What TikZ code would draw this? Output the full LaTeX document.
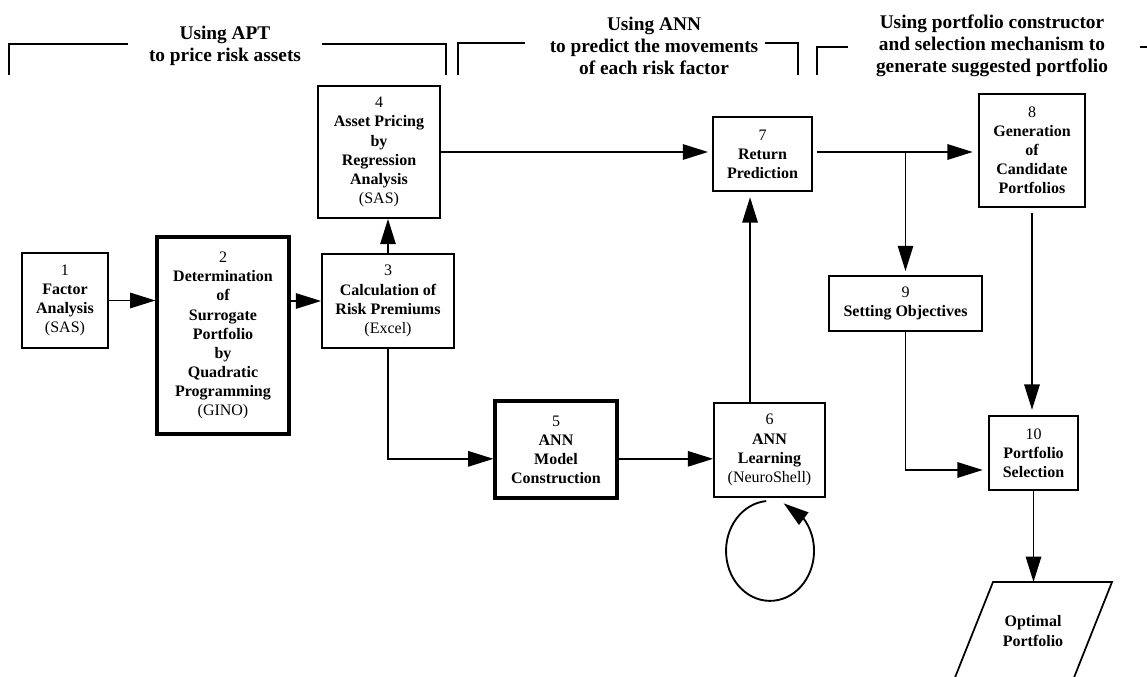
\documentclass[tikz,border=0pt]{standalone}
\usepackage{fontspec}
\setmainfont{Liberation Serif}
\usetikzlibrary{arrows.meta,calc,bending}
\begin{document}
\begin{tikzpicture}[x=0.75pt,y=-0.75pt,
  box/.style={draw, line width=1.3pt, align=center, inner sep=0pt,
    font=\fontsize{12}{14.3}\selectfont\bfseries},
  heavybox/.style={box, line width=2.3pt},
  hdr/.style={align=center, inner sep=0pt,
    font=\fontsize{14.5}{16.5}\selectfont\bfseries},
  bracket/.style={line width=1.1pt},
  conn/.style={line width=1.4pt, -{Triangle[length=19pt,width=11.5pt]}},
  plainline/.style={line width=1.4pt}
]
\useasboundingbox (0,0) rectangle (1147,677);
\clip (0,0) rectangle (1147,677);

% headers
\node[hdr] (h1) at (225,46) {Using APT\\to price risk assets};
\node[hdr] (h2) at (654,46) {Using ANN\\to predict the movements\\of each risk factor};
\node[hdr] (h3) at (992,46) {Using portfolio constructor\\and selection mechanism to\\generate suggested portfolio};

\draw[bracket] (9,75) -- (9,44) -- (128,44);
\draw[bracket] (322,44) -- (446,44) -- (446,75);
\draw[bracket] (458,75) -- (458,43) -- (525,43);
\draw[bracket] (765,43) -- (798,43) -- (798,75);
\draw[bracket] (817,75) -- (817,47) -- (848,47);
\draw[bracket] (1140,47) -- (1147,47);

% boxes
\node[box, minimum width=64.5pt, minimum height=71.25pt] (b1) at (65,300.5)
  {\textmd{1}\\Factor\\Analysis\\\textmd{(SAS)}};
\node[heavybox, minimum width=99pt, minimum height=147.75pt] (b2) at (223,335.5)
  {\textmd{2}\\Determination\\of\\Surrogate\\Portfolio\\by\\Quadratic\\Programming\\\textmd{(GINO)}};
\node[box, minimum width=99pt, minimum height=70.5pt] (b3) at (388,301)
  {\textmd{3}\\Calculation of\\Risk Premiums\\\textmd{(Excel)}};
\node[box, minimum width=91.5pt, minimum height=99pt] (b4) at (379,152)
  {\textmd{4}\\Asset Pricing\\by\\Regression\\Analysis\\\textmd{(SAS)}};
\node[heavybox, minimum width=91.5pt, minimum height=72.75pt] (b5) at (556,449.5)
  {\textmd{5}\\ANN\\Model\\Construction};
\node[box, minimum width=83.25pt, minimum height=70.5pt] (b6) at (769.5,450)
  {\textmd{6}\\ANN\\Learning\\\textmd{(NeuroShell)}};
\node[box, minimum width=74.25pt, minimum height=55.5pt] (b7) at (762.5,154)
  {\textmd{7}\\Return\\Prediction};
\node[box, minimum width=79.5pt, minimum height=84.75pt] (b8) at (1032,150.5)
  {\textmd{8}\\Generation\\of\\Candidate\\Portfolios};
\node[box, minimum width=114.75pt, minimum height=41.25pt] (b9) at (905.5,303.5)
  {\textmd{9}\\Setting Objectives};
\node[box, minimum width=66.75pt, minimum height=55.5pt] (b10) at (1033.5,453)
  {\textmd{10}\\Portfolio\\Selection};

% output parallelogram
\draw[line width=1.3pt] (993,582) -- (1112,582) -- (1073,680) -- (954,680) -- cycle;
\coordinate (optop) at (1032,582);
\node[align=center, inner sep=0pt, font=\fontsize{12}{14.3}\selectfont\bfseries] (op) at (1033,631)
  {Optimal\\Portfolio};

% connectors
\draw[conn] (b1.east) -- (b1.east -| b2.west);
\draw[conn] (b2.east |- b3.west) -- (b3.west);
\draw[conn] (b3.north) -- (b3.north |- b4.south);
\draw[conn, shorten >=3pt] (b4.east) -- (b4.east -| b7.west);
\draw[conn] (b3.south) |- ([yshift=-7pt]b5.west);
\draw[conn] ([yshift=-7pt]b5.east) -- ([yshift=-7pt]b5.east -| b6.west);
\draw[conn, shorten >=4pt] ([xshift=-14.6pt]b6.north) -- ([xshift=-14.6pt]b6.north |- b7.south);
\draw[conn] ($(b6.south)+(-3.3,3.2)$) arc[start angle=-95, end angle=-432, x radius=44, y radius=50];
\coordinate (r7) at ([yshift=1.5pt]b7.east);
\draw[conn, shorten <=3pt, shorten >=4pt] (r7) -- (r7 -| b8.west);
\draw[conn, shorten >=3pt] (b9.north |- r7) -- (b9.north);
\draw[conn, shorten <=4pt, shorten >=4pt] (b8.south) -- (b8.south |- b10.north);
\draw[conn, shorten >=4pt] (b9.south) |- ([yshift=-12.75pt]b10.west);
\draw[conn] (b10.south) -- (b10.south |- optop);
\end{tikzpicture}
\end{document}
